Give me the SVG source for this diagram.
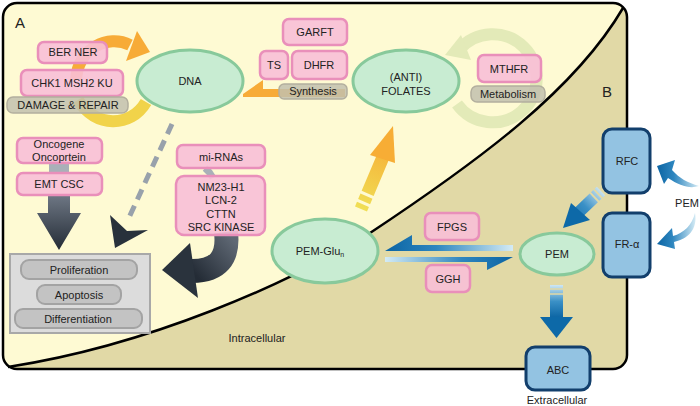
<svg xmlns="http://www.w3.org/2000/svg" width="700" height="406" viewBox="0 0 700 406">
<defs>
<style>
text{font-family:"Liberation Sans",Arial,sans-serif;font-size:11px;fill:#222;text-anchor:middle}
.big{font-size:15px;text-anchor:start}
.pink{fill:#f8bfd7;fill-opacity:.9;stroke:#e98fba;stroke-width:2.5}
.ell{fill:#c8ecd2;stroke:#88c99b;stroke-width:3}
.lab{fill:#c2bfae;fill-opacity:.85;stroke:#b3af9e;stroke-width:1.5}
.pill{fill:#c3c3c3;stroke:#a3a3a3;stroke-width:2}
.blue{fill:#93c3e2;stroke:#123f6c;stroke-width:3}
</style>
<clipPath id="frame"><rect x="3" y="3" width="624" height="366" rx="14"/></clipPath>
<linearGradient id="dark" x1="0" y1="0" x2="0" y2="1"><stop offset="0" stop-color="#6e7784"/><stop offset="1" stop-color="#242c36"/></linearGradient>
<linearGradient id="darkH" x1="1" y1="0" x2="0" y2="1"><stop offset="0" stop-color="#5f6874"/><stop offset="1" stop-color="#242c36"/></linearGradient>
<linearGradient id="bL" x1="1" y1="0" x2="0" y2="0"><stop offset="0" stop-color="#d4ebf5"/><stop offset="0.6" stop-color="#2e86bf"/><stop offset="1" stop-color="#0b64a3"/></linearGradient>
<linearGradient id="bR" x1="0" y1="0" x2="1" y2="0"><stop offset="0" stop-color="#d4ebf5"/><stop offset="0.6" stop-color="#2e86bf"/><stop offset="1" stop-color="#0b64a3"/></linearGradient>
<linearGradient id="bD" x1="0" y1="0" x2="0" y2="1"><stop offset="0" stop-color="#cfe7f3"/><stop offset="0.5" stop-color="#3a90c6"/><stop offset="1" stop-color="#0b64a3"/></linearGradient>
<linearGradient id="bDiag" gradientUnits="userSpaceOnUse" x1="602" y1="190" x2="565" y2="226"><stop offset="0" stop-color="#cfe7f3"/><stop offset="0.45" stop-color="#3a90c6"/><stop offset="1" stop-color="#0b64a3"/></linearGradient>
<linearGradient id="yel" gradientUnits="userSpaceOnUse" x1="361" y1="209" x2="390" y2="135"><stop offset="0" stop-color="#f0df55"/><stop offset="1" stop-color="#f7a933"/></linearGradient>
</defs>
<rect width="700" height="406" fill="#fff"/>
<g id="background">
<rect x="3" y="3" width="624" height="366" rx="14" fill="#e1d9a6"/>
<path clip-path="url(#frame)" d="M0,0 H640 L623,8 C575,90 480,160 370,233 C290,283 150,345 8,367 L0,372 Z" fill="#fefad3"/>
<path d="M623,8 C575,90 480,160 370,233 C290,283 150,345 8,367" fill="none" stroke="#000" stroke-width="2.5"/>
<rect x="3" y="3" width="624" height="366" rx="14" fill="none" stroke="#000" stroke-width="2.5"/>
<text class="big" x="15" y="28">A</text>
<text class="big" x="602" y="97">B</text>
<text x="257" y="342">Intracellular</text>
<text x="557" y="404">Extracellular</text>
</g>
<g id="connectors">
<path d="M76,80 C78,48 108,34 130,45" fill="none" stroke="#f7ab37" stroke-width="12"/>
<polygon points="137,31 150,52 126,61" fill="#f7ab37"/>
<path d="M146,102 C131,128 95,128 78,100" fill="none" stroke="#f1d34a" stroke-width="12"/>
<path d="M457,104 A44,44 0 1 0 459,50" fill="none" stroke="#e3eab8" stroke-width="12"/>
<polygon points="445,55 461,35 471,60" fill="#e3eab8"/>
<path d="M243,94 L263,80 L263,89 L345,89 L345,97 L243,97 Z" fill="#f7ab37"/>
<rect x="49" y="163" width="20" height="10" fill="#a9b0b8"/>
<path d="M48,195 H70 V213 H81 L59,250 L37,213 H48 Z" fill="url(#dark)"/>
<line x1="172" y1="124" x2="127" y2="222" stroke="#98a1ab" stroke-width="5" stroke-dasharray="11,7"/>
<polygon points="110,215 127,231 148,230 115,248" fill="#28313b"/>
<path d="M205,168 Q210,172 213,178" fill="none" stroke="#a9b0b8" stroke-width="7"/>
<path d="M226,232 C229,258 218,271 192,271" fill="none" stroke="url(#darkH)" stroke-width="24"/>
<polygon points="190,243 162,270 198,298" fill="#2a333d"/>
<line x1="361" y1="209" x2="383" y2="157" stroke="url(#yel)" stroke-width="13" stroke-dasharray="5,3,6,3,100"/>
<polygon points="393,126 370,155 395,163" fill="#f7ad35"/>
<path d="M385,251 L412,235 L412,245 L513,245 L513,251 Z" fill="url(#bL)"/>
<path d="M385,257 L513,257 L487,270 L487,262 L385,262 Z" fill="url(#bR)"/>
<line x1="601" y1="191" x2="578" y2="213" stroke="url(#bDiag)" stroke-width="12" stroke-dasharray="3,2,3,2,60"/>
<polygon points="563,228 571,203 590,220" fill="#0d69a8"/>
<path d="M699,186 C688,183 679,178 672,170 L675,160 L657,166 L664,184 L668,178 C680,186 690,189 699,186 Z" fill="url(#bL)"/>
<path d="M695,213 C692,225 684,233 673,236 L672,228 L657,244 L675,249 L674,242 C688,239 698,229 695,213 Z" fill="url(#bL)"/>
<rect x="550" y="285" width="13" height="33" fill="url(#bD)"/>
<path d="M550,289 H563 M550,294 H563" stroke="#e1d9a6" stroke-width="1.5"/>
<polygon points="540,317 573,317 556.5,338" fill="#0d69a8"/>
</g>
<g id="dna"><ellipse class="ell" cx="190" cy="81" rx="53" ry="31"/><text x="190" y="85">DNA</text></g>
<g id="antifolates"><ellipse class="ell" cx="406" cy="81" rx="53" ry="31"/><text x="406" y="81">(ANTI)</text><text x="406" y="95">FOLATES</text></g>
<g id="pem-glu"><ellipse class="ell" cx="325" cy="251" rx="53" ry="32"/><text x="320" y="255">PEM-Glu<tspan font-size="7" dy="2">n</tspan></text></g>
<g id="pem"><ellipse class="ell" cx="557" cy="254" rx="37" ry="21"/><text x="557" y="258">PEM</text></g>
<g id="ber-ner"><rect class="pink" x="38" y="42" width="69" height="21" rx="6"/><text x="73" y="56">BER NER</text></g>
<g id="chk1"><rect class="pink" x="21" y="70" width="102" height="26" rx="6"/><text x="72" y="87">CHK1 MSH2 KU</text></g>
<g id="damage"><rect class="lab" x="7" y="97" width="121" height="16" rx="6"/><text x="68" y="109">DAMAGE &amp; REPAIR</text></g>
<g id="garft"><rect class="pink" x="283" y="19" width="64" height="26" rx="6"/><text x="315" y="36">GARFT</text></g>
<g id="ts"><rect class="pink" x="260" y="51" width="28" height="28" rx="6"/><text x="274" y="69">TS</text></g>
<g id="dhfr"><rect class="pink" x="292" y="51" width="55" height="28" rx="6"/><text x="319" y="69">DHFR</text></g>
<g id="synthesis"><rect class="lab" x="279" y="84" width="68" height="15" rx="5"/><text x="313" y="95">Synthesis</text></g>
<g id="mthfr"><rect class="pink" x="478" y="55" width="63" height="27" rx="6"/><text x="509" y="73">MTHFR</text></g>
<g id="metabolism"><rect class="lab" x="471" y="86" width="74" height="16" rx="6"/><text x="508" y="98">Metabolism</text></g>
<g id="oncogene"><rect class="pink" x="17" y="138" width="85" height="25" rx="6"/><text x="59" y="148">Oncogene</text><text x="59" y="161">Oncoprtein</text></g>
<g id="emt"><rect class="pink" x="17" y="173" width="85" height="22" rx="6"/><text x="59" y="188">EMT CSC</text></g>
<g id="mirnas"><rect class="pink" x="177" y="145" width="88" height="23" rx="6"/><text x="221" y="161">mi-RNAs</text></g>
<g id="nm23"><rect class="pink" x="176" y="176" width="89" height="59" rx="8"/><text x="221" y="191">NM23-H1</text><text x="221" y="204">LCN-2</text><text x="221" y="218">CTTN</text><text x="221" y="231">SRC KINASE</text></g>
<g id="outcomes"><rect x="10" y="254" width="140" height="79" fill="#dcdcdc" stroke="#a8a8a8" stroke-width="2"/>
<rect class="pill" x="21" y="260" width="116" height="19" rx="8"/><text x="79" y="274">Proliferation</text>
<rect class="pill" x="37" y="285" width="84" height="19" rx="8"/><text x="79" y="299">Apoptosis</text>
<rect class="pill" x="15" y="309" width="127" height="19" rx="8"/><text x="78" y="323">Differentiation</text></g>
<g id="fpgs"><rect class="pink" x="425" y="213" width="54" height="27" rx="6"/><text x="452" y="231">FPGS</text></g>
<g id="ggh"><rect class="pink" x="426" y="265" width="44" height="27" rx="6"/><text x="448" y="283">GGH</text></g>
<g id="rfc"><rect class="blue" x="603" y="129" width="47" height="64" rx="9"/><text x="627" y="165">RFC</text></g>
<g id="fra"><rect class="blue" x="603" y="213" width="47" height="64" rx="9"/><text x="627" y="248">FR-α</text></g>
<g id="pem-out"><text x="687" y="207">PEM</text></g>
<g id="abc"><rect class="blue" x="526" y="347" width="64" height="43" rx="9"/><text x="558" y="374">ABC</text></g>
</svg>
